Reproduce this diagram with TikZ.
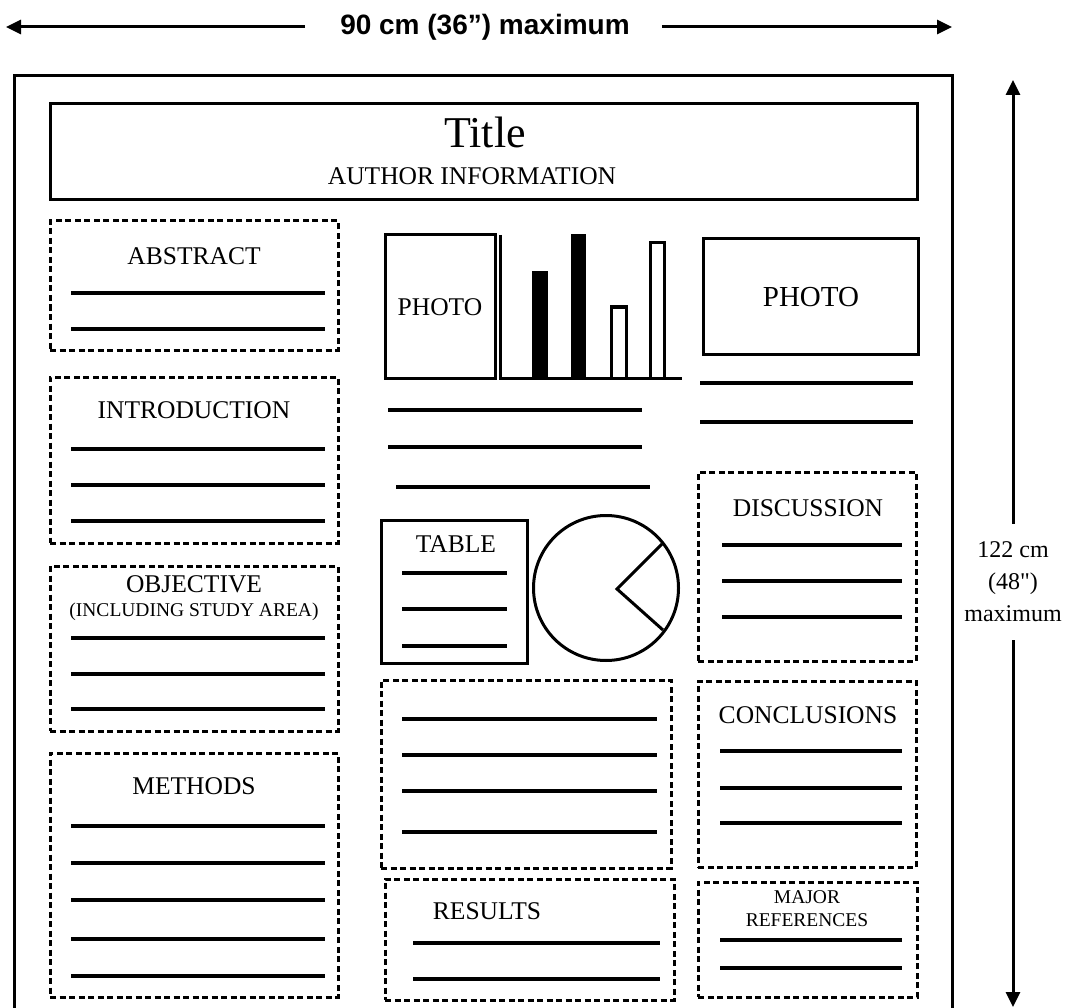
\documentclass[tikz,border=0pt]{standalone}
\usepackage{fontspec}
\setmainfont{Liberation Serif}
\newfontfamily\rawserif{Liberation Serif}
\newfontfamily\dimfont{Liberation Sans}
\usetikzlibrary{arrows.meta,fit}
\begin{document}
\begin{tikzpicture}[x=1pt,y=-1pt,
  solidbox/.style={draw, line width=3pt, inner sep=0pt, outer sep=0pt},
  dashbox/.style={draw, line width=3pt, dash pattern=on 6pt off 3.5pt, inner sep=0pt, outer sep=0pt},
  rule/.style={line width=3.2pt},
  lbl/.style={font=\fontsize{25.5}{28}\selectfont, inner sep=0pt},
  smalllbl/.style={font=\fontsize{19.5}{23}\selectfont, inner sep=0pt},
  dimline/.style={line width=3pt},
  dimtip/.style={-{Triangle[length=15pt,width=14pt]}}
]
\useasboundingbox (0,0) rectangle (1084,1008);

% outer frame (open at the bottom)
\coordinate (fbl) at (14,1008);
\coordinate (ftl) at (14,76);
\coordinate (ftr) at (952,76);
\coordinate (fbr) at (952,1008);
\draw[line width=3pt] (fbl) -- (ftl) -- (ftr) -- (fbr);

% width dimension
\node[font=\dimfont\bfseries\fontsize{28}{30}\selectfont, inner sep=0pt] (wlab) at (485,27) {90 cm (36”) maximum};
\coordinate (wl) at (6,27);
\coordinate (wr) at (952,27);
\draw[dimline,dimtip] ([xshift=-35pt]wlab.west) -- (wl);
\draw[dimline,dimtip] ([xshift=32pt]wlab.east) -- (wr);

% height dimension
\node[font=\rawserif\fontsize{24}{32}\selectfont, align=center, inner sep=0pt] (hlab) at (1013,582) {122 cm\\(48")\\maximum};
\coordinate (ht) at (1013,80);
\coordinate (hb) at (1013,1007);
\draw[dimline,dimtip] ([yshift=18pt]hlab.north) -- (ht);
\draw[dimline,dimtip] ([yshift=-18pt]hlab.south) -- (hb);

% title box
\node[solidbox, fit={(50,104)(917,200)}] (titlebox) {};
\node[font=\fontsize{44}{48}\selectfont, inner sep=0pt] (title) at (485,132) {Title};
\node[lbl] (author) at (472,176) {AUTHOR INFORMATION};

% ---------- left column ----------
\node[dashbox, fit={(50,221)(338,350)}] (abstract) {};
\node[lbl] (abstractlbl) at (194,256) {ABSTRACT};
\foreach \y in {293,329} \draw[rule] (71,\y) -- (325,\y);

\node[dashbox, fit={(50,377)(338,543)}] (intro) {};
\node[lbl] (introlbl) at (194,410) {INTRODUCTION};
\foreach \y in {449,485,521} \draw[rule] (71,\y) -- (325,\y);

\node[dashbox, fit={(50,566)(338,731)}] (objective) {};
\node[lbl] (objlbl) at (194,584) {OBJECTIVE};
\node[smalllbl] (objsub) at (194,612) {(INCLUDING STUDY AREA)};
\foreach \y in {638,674,709} \draw[rule] (71,\y) -- (325,\y);

\node[dashbox, fit={(50,753)(338,997)}] (methods) {};
\node[lbl] (methodslbl) at (194,786) {METHODS};
\foreach \y in {826,863,900,939,976} \draw[rule] (71,\y) -- (325,\y);

% ---------- middle column ----------
\node[solidbox, fit={(385,235)(495,378)}] (photo1) {};
\node[lbl] (photo1lbl) at (440,307) {PHOTO};

% bar chart
\coordinate (axtop) at (500,235);
\coordinate (axorig) at (500,378);
\coordinate (axright) at (682,378);
\draw[line width=3pt] (axtop) -- (axorig) -- (axright);
\draw[line width=2pt, fill=black] (533,272) rectangle (547,378);
\draw[line width=2pt, fill=black] (572,235) rectangle (585,378);
\draw[line width=3pt, fill=white] (611,307) rectangle (626,378);
\draw[line width=3pt, fill=white] (650,243) rectangle (664,378);

\draw[rule] (388,410) -- (642,410);
\draw[rule] (388,447) -- (642,447);
\draw[rule] (396,487) -- (650,487);

\node[solidbox, fit={(381,520)(527,663)}] (table) {};
\node[lbl] (tablelbl) at (456,544) {TABLE};
\foreach \y in {573,609,646} \draw[rule] (402,\y) -- (507,\y);

% pie chart
\coordinate (pc) at (606,588);
\coordinate (apex) at (617,589);
\coordinate (pa) at (662,544);
\coordinate (pb) at (663,630);
\draw[line width=3pt] (pc) circle[radius=72.5];
\draw[line width=3pt, line join=miter] (pa) -- (apex) -- (pb);

\node[dashbox, fit={(381,680)(671,868)}] (results1) {};
\foreach \y in {719,755,791,832} \draw[rule] (402,\y) -- (657,\y);

\node[dashbox, fit={(385,879)(674,1000)}] (results) {};
\node[lbl] (resultslbl) at (487,911) {RESULTS};
\foreach \y in {943,979} \draw[rule] (413,\y) -- (660,\y);

% ---------- right column ----------
\node[solidbox, fit={(703,239)(918,354)}] (photo2) {};
\node[font=\fontsize{29}{32}\selectfont, inner sep=0pt] (photo2lbl) at (811,297) {PHOTO};
\draw[rule] (700,383) -- (913,383);
\draw[rule] (700,422) -- (913,422);

\node[dashbox, fit={(698,472)(916,661)}] (discussion) {};
\node[lbl] (disclbl) at (808,508) {DISCUSSION};
\foreach \y in {545,581,617} \draw[rule] (722,\y) -- (902,\y);

\node[dashbox, fit={(698,681)(916,867)}] (conclusions) {};
\node[lbl] (conclbl) at (808,715) {CONCLUSIONS};
\foreach \y in {751,788,823} \draw[rule] (720,\y) -- (902,\y);

\node[dashbox, fit={(698,882)(917,997)}] (refs) {};
\node[smalllbl] (refslbl1) at (807,897) {MAJOR};
\node[smalllbl] (refslbl2) at (807,920) {REFERENCES};
\foreach \y in {940,968} \draw[rule] (720,\y) -- (902,\y);
\end{tikzpicture}
\end{document}
